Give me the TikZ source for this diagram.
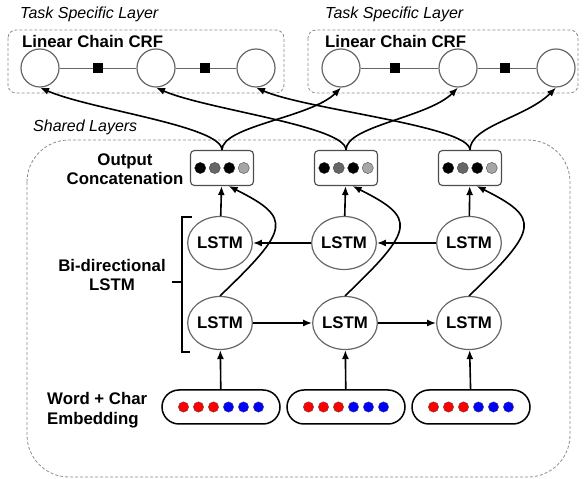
\documentclass[tikz,border=0pt]{standalone}
\usepackage{fontspec}
\setmainfont{Liberation Sans}
\usetikzlibrary{shapes.geometric,arrows.meta}
\tikzset{
  lbl/.style={font=\fontsize{16.8}{19.5}\selectfont\bfseries, inner sep=0pt},
  ttl/.style={font=\fontsize{16}{19}\selectfont\itshape, inner sep=0pt, anchor=west},
  layerbox/.style={draw=black!45, line width=0.8pt, dash pattern=on 3pt off 2pt},
  crf/.style={circle, draw=black!60, line width=1.2pt, minimum size=38pt, inner sep=0pt},
  fac/.style={rectangle, fill=black, minimum size=10pt, inner sep=0pt},
  chain/.style={draw=black!60, line width=0.8pt},
  lstm/.style={ellipse, draw=black!60, line width=1.2pt, minimum width=61pt, minimum height=53pt, inner sep=0pt, lbl},
  concat/.style={rectangle, rounded corners=4pt, draw=black!70, line width=1.1pt, minimum width=63pt, minimum height=35pt},
  embed/.style={rectangle, rounded corners=17pt, draw=black, line width=1.5pt, minimum width=118pt, minimum height=34pt},
  link/.style={->, line width=1.6pt},
}
\begin{document}
\begin{tikzpicture}[x=1pt,y=1pt,>={Latex[length=9pt,width=7pt]}]
\useasboundingbox (0,0) rectangle (584,479);
% task specific layers
\draw[layerbox, rounded corners=8pt] (8,449) rectangle (284,386);
\draw[layerbox, rounded corners=8pt] (308,449) rectangle (578,386);
\node[ttl](tsl1) at (20,465) {Task Specific Layer};
\node[ttl](tsl2) at (325,465) {Task Specific Layer};
\node[lbl,anchor=west](lcrf1) at (22,437) {Linear Chain CRF};
\node[lbl,anchor=west](lcrf2) at (325,437) {Linear Chain CRF};
%
\node[crf](crfa1) at (40,411) {};
\node[fac](faca1) at (98,411) {};
\node[crf](crfa2) at (156,411) {};
\node[fac](faca2) at (205,411) {};
\node[crf](crfa3) at (256,411) {};
\draw[chain](crfa1) -- (faca1) -- (crfa2) -- (faca2) -- (crfa3);
%
\node[crf](crfb1) at (341,411) {};
\node[fac](facb1) at (395,411) {};
\node[crf](crfb2) at (458,411) {};
\node[fac](facb2) at (505,411) {};
\node[crf](crfb3) at (556,411) {};
\draw[chain](crfb1) -- (facb1) -- (crfb2) -- (facb2) -- (crfb3);
% shared layers
\draw[layerbox, rounded corners=42pt] (27,339) rectangle (570,2);
\node[ttl](shared) at (33,352) {Shared Layers};
%
\node[lbl,align=center](ocl) at (125,310) {Output\\Concatenation};
\node[concat](oc1) at (222,311) {};
\node[concat](oc2) at (346,311) {};
\node[concat](oc3) at (470,311) {};
\foreach \o in {oc1,oc2,oc3}
  \foreach \i/\c in {0/black,1/black!60,2/black,3/black!35}
    \fill[\c, draw=black!80, line width=0.3pt] ([xshift={-21.75+14.5*\i}]\o.center) circle (5.6);
%
\node[lbl,align=center](bil) at (112,204) {Bi-directional\\LSTM};
\draw[line width=1.3pt] (192,262) -- (182,262) -- (182,127) -- (190,127);
\draw[line width=1.3pt] (182,197) -- (172,197);
%
\node[lstm](up1) at (220,236) {LSTM};
\node[lstm](up2) at (344,236) {LSTM};
\node[lstm](up3) at (469,236) {LSTM};
\node[lstm](lo1) at (220,156) {LSTM};
\node[lstm](lo2) at (345,156) {LSTM};
\node[lstm](lo3) at (469,156) {LSTM};
%
\node[lbl,align=left,anchor=west](embl) at (47,69) {Word + Char\\Embedding};
\node[embed](emb1) at (221,72) {};
\node[embed](emb2) at (346,72) {};
\node[embed](emb3) at (471,72) {};
\foreach \e in {emb1,emb2,emb3}
  \foreach \i/\c in {0/red,1/red,2/red,3/blue,4/blue,5/blue}
    \fill[\c, draw=black!70, line width=0.3pt] ([xshift={-37.5+15*\i}]\e.center) circle (5.2);
%
\draw[link](emb1) -- (lo1);
\draw[link](emb2) -- (lo2);
\draw[link](emb3) -- (lo3);
\draw[link](lo1) -- (lo2);
\draw[link](lo2) -- (lo3);
\draw[link](up3) -- (up2);
\draw[link](up2) -- (up1);
\draw[link](up1) -- (oc1);
\draw[link](up2) -- (oc2);
\draw[link](up3) -- (oc3);
\draw[link](lo1.north) .. controls +(70,67) and +(64,-32) .. (oc1.-70);
\draw[link](lo2.north) .. controls +(70,67) and +(64,-32) .. (oc2.-70);
\draw[link](lo3.north) .. controls +(70,67) and +(64,-32) .. (oc3.-70);
%
\draw[link](oc1.north) .. controls +(0,24) and +(50,-22) .. (crfa1.south);
\draw[link](oc2.north) .. controls +(0,24) and +(50,-22) .. (crfa2.south);
\draw[link](oc3.north) .. controls +(0,24) and +(50,-22) .. (crfa3.south);
\draw[link](oc1.north) .. controls +(0,24) and +(-30,-30) .. (crfb1.south);
\draw[link](oc2.north) .. controls +(0,24) and +(-30,-30) .. (crfb2.south);
\draw[link](oc3.north) .. controls +(0,24) and +(-30,-30) .. (crfb3.south);
\end{tikzpicture}
\end{document}
